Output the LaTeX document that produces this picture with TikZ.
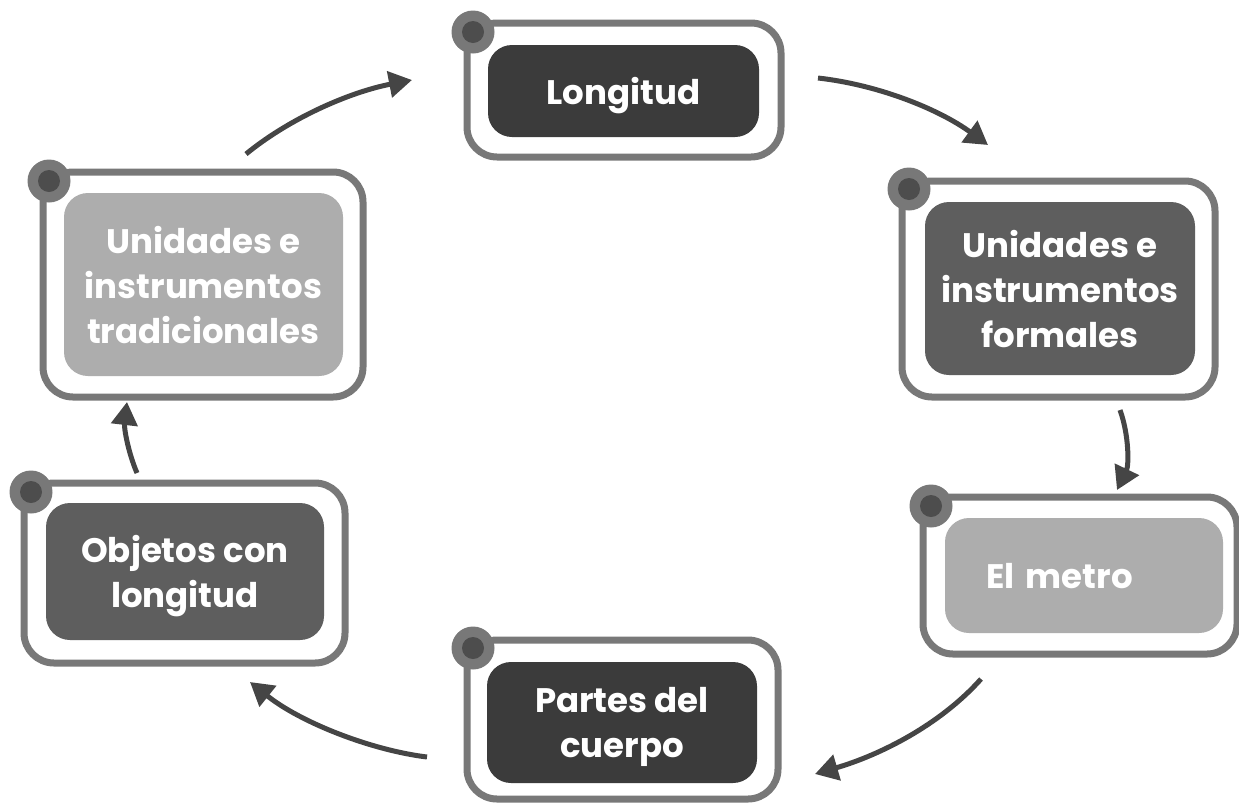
\documentclass[tikz,border=0pt]{standalone}
\usepackage{fontspec}
\setmainfont{Poppins}
\usetikzlibrary{arrows.meta}
\definecolor{frame}{HTML}{787878}
\definecolor{dotc}{HTML}{4D4D4D}
\definecolor{darkf}{HTML}{3B3B3B}
\definecolor{midf}{HTML}{5E5E5E}
\definecolor{lightf}{HTML}{ADADAD}
\definecolor{arr}{HTML}{454545}
\tikzset{
  outerbox/.style={draw=frame, line width=7pt, rounded corners=30pt, fill=white, inner sep=0pt},
  innerbox/.style={rounded corners=24pt, inner sep=0pt, text=white, align=center, text depth=0pt,
     font=\fontsize{34}{45}\selectfont\bfseries},
  ringdot/.style={circle, fill=frame, minimum size=43pt, inner sep=0pt},
  coredot/.style={circle, fill=dotc, minimum size=22pt, inner sep=0pt},
  flow/.style={draw=arr, line width=5pt, -{Triangle[length=23pt,width=26pt]}}
}
\begin{document}
\begin{tikzpicture}[x=1pt,y=-1pt]
\useasboundingbox (0,0) rectangle (1239,804);
% Longitud
\node[outerbox, minimum width=314pt, minimum height=134pt] (o1) at (624,90) {};
\node[innerbox, fill=darkf, minimum width=271pt, minimum height=92pt] (b1) at (623.5,91) {Longitud};
\node[ringdot] (r1) at (473,32) {};
\node[coredot] (c1) at (473,32) {};
% Formales
\node[outerbox, minimum width=313pt, minimum height=216pt] (o2) at (1058.5,289) {};
\node[innerbox, fill=midf, minimum width=270pt, minimum height=173pt] (b2) at (1060,288.5) {Unidades e\\instrumentos\\formales};
\node[ringdot] (r2) at (909,189) {};
\node[coredot] (c2) at (909,189) {};
% El metro
\node[outerbox, minimum width=314pt, minimum height=157pt] (o3) at (1080,575.5) {};
\node[innerbox, fill=lightf, minimum height=115pt, text width=196pt, inner xsep=41pt, align=left] (b3) at (1084,575.5) {El metro};
\node[ringdot] (r3) at (931,506) {};
\node[coredot] (c3) at (931,506) {};
% Partes del cuerpo
\node[outerbox, minimum width=311pt, minimum height=159pt] (o4) at (622.5,719.5) {};
\node[innerbox, fill=darkf, minimum width=270pt, minimum height=121pt] (b4) at (622,722.5) {Partes del\\cuerpo};
\node[ringdot] (r4) at (473,648) {};
\node[coredot] (c4) at (473,648) {};
% Objetos con longitud
\node[outerbox, minimum width=321pt, minimum height=180pt] (o5) at (184.5,573) {};
\node[innerbox, fill=midf, minimum width=278pt, minimum height=137pt] (b5) at (185,571.5) {Objetos con\\longitud};
\node[ringdot] (r5) at (31,492) {};
\node[coredot] (c5) at (31,492) {};
% Tradicionales
\node[outerbox, minimum width=320pt, minimum height=225pt] (o6) at (203,284.5) {};
\node[innerbox, fill=lightf, minimum width=279pt, minimum height=183pt] (b6) at (203.5,284.5) {Unidades e\\instrumentos\\tradicionales};
\node[ringdot] (r6) at (49,181) {};
\node[coredot] (c6) at (49,181) {};
% arrow ends
\coordinate (a1s) at (246,154); \coordinate (a1e) at (412,80);
\coordinate (a2s) at (818,78);  \coordinate (a2e) at (988,145);
\coordinate (a3s) at (1120,410); \coordinate (a3e) at (1117,490);
\coordinate (a4s) at (981,679); \coordinate (a4e) at (815,774);
\coordinate (a5s) at (427,757); \coordinate (a5e) at (250,682);
\coordinate (a6s) at (137,473); \coordinate (a6e) at (127,402);
\draw[flow] (a1s) .. controls (290,118) and (350,92) .. (a1e);
\draw[flow] (a2s) .. controls (880,85) and (940,110) .. (a2e);
\draw[flow] (a3s) .. controls (1129,435) and (1129,465) .. (a3e);
\draw[flow] (a4s) .. controls (940,725) and (880,755) .. (a4e);
\draw[flow] (a5s) .. controls (370,750) and (300,722) .. (a5e);
\draw[flow] (a6s) .. controls (128,452) and (124,428) .. (a6e);
\end{tikzpicture}
\end{document}
